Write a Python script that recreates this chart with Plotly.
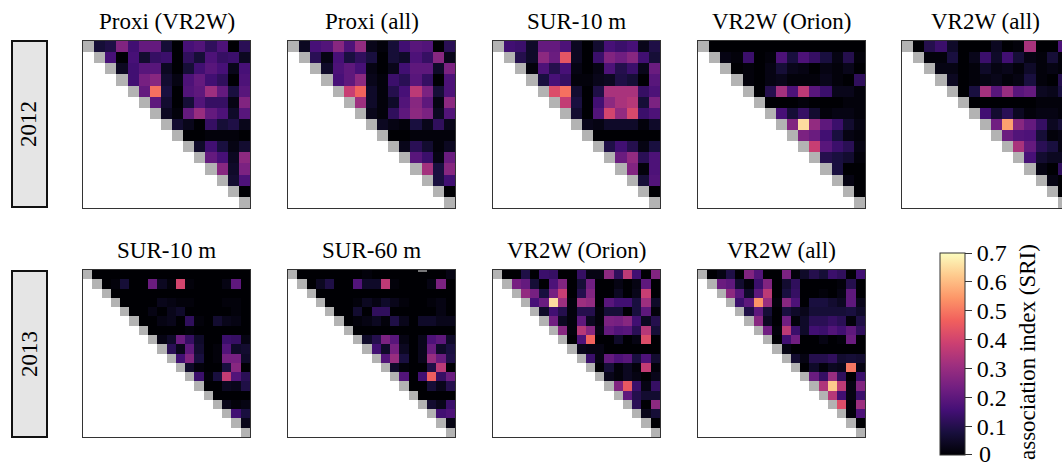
import plotly.graph_objects as go

titles_2012 = ["Proxi (VR2W)", "Proxi (all)", "SUR-10 m", "VR2W (Orion)", "VR2W (all)"]
titles_2013 = ["SUR-10 m", "SUR-60 m", "VR2W (Orion)", "VR2W (all)"]
year_labels = ["2012", "2013"]
# Plotly's colorbar axis starts half a colour step above zmin and drops the label
# for its lowest tick, so the "0" label is drawn as an annotation below.
cbar_ticks = [0.002, 0.1, 0.2, 0.3, 0.4, 0.5, 0.6, 0.7]
cbar_labels = ["", "0.1", "0.2", "0.3", "0.4", "0.5", "0.6", "0.7"]
cbar_zero_label = "0"

p2012_proxi_vr2w = [
    [.07,.09,.26,.15,.21,.21,.07,0,.16,.18,.12,.17,0,.11],
    [.16,0,.16,.06,.13,.14,0,.12,.07,.17,.13,.14,.04],
    [.04,.15,.19,.19,.04,0,.07,.15,.19,.16,.03,.16],
    [.15,.24,.27,.06,.02,.17,.21,.15,.12,0,.17],
    [.21,.49,.08,0,.18,.20,.31,.21,.08,.19],
    [.2,.06,0,.07,.18,.13,.13,.02,.26],
    [.04,.01,.21,.3,.21,.17,.05,.19],
    [.06,.03,0,.13,.07,.09,.03],
    [0,0,.01,.01,.01,0],
    [.05,.15,.08,.02,.06],
    [.21,.16,.04,.28],
    [.27,.05,.25],
    [.06,.17],
    [0],
]
p2012_proxi_all = [
    [.04,.16,.18,.27,.17,.29,.03,.01,.07,.15,.19,.18,0,.11],
    [.11,.02,.16,.08,.12,.08,0,.07,.05,.17,.13,.27,.03],
    [.05,.17,.2,.16,.02,0,.03,.15,.2,.2,.05,.25],
    [.16,.2,.28,.03,.01,.14,.11,.19,.13,0,.17],
    [.38,.47,.05,.01,.1,.16,.36,.25,.07,.17],
    [.31,.05,.01,.05,.18,.27,.2,.02,.28],
    [.03,.01,.12,.2,.28,.25,.04,.18],
    [.04,.02,.01,.08,.03,.12,.03],
    [0,0,.01,.01,.01,.01],
    [.03,.11,.06,.01,.04],
    [.19,.14,.02,.22],
    [.32,.08,.27],
    [.08,.15],
    [0],
]
p2012_sur10 = [
    [.15,.14,.05,.21,.21,.17,.04,0,.06,.16,.14,.16,.03,.09],
    [.1,.05,.28,.22,.44,.04,0,.14,.26,.23,.27,.15,.07],
    [.01,.17,.1,.16,.02,0,.02,.17,.1,.14,.03,.22],
    [.08,.16,.13,.01,.01,.03,.04,.09,.07,0,.19],
    [.42,.49,.06,0,.09,.33,.33,.33,.13,.17],
    [.37,.08,0,.15,.28,.33,.35,.07,.25],
    [.06,0,.18,.4,.29,.41,.14,.17],
    [.03,.02,.05,.05,.05,.01,.05],
    [0,0,0,0,0,0],
    [.09,.15,.1,.02,.08],
    [.22,.29,.11,.17],
    [.26,.01,.17],
    [.07,.18],
    [0],
]
p2012_orion = [
    [0,0,0,0,0,0,0,0,0,0,0,0,0,0],
    [.02,.01,.14,0,.01,.17,.08,.17,.13,.08,.02,.1,.01],
    [0,.01,0,.02,.07,.03,.02,0,.02,.01,.03,0],
    [.01,0,.02,.03,.01,.01,.01,.03,.01,0,.12],
    [0,.1,.32,.17,.36,.19,.14,.03,.03,.01],
    [0,0,0,.01,0,0,0,.01,.01],
    [.16,.07,.13,.06,.01,.02,.02,.01],
    [.26,.65,.29,.2,.14,.06,.02],
    [.25,.22,.15,.08,.02,.01],
    [.38,.19,.14,.11,.02],
    [.1,.08,.06,.01],
    [.08,0,0],
    [.02,0],
    [0],
]
p2012_all = [
    [0,.1,.14,.05,0,0,0,.04,0,.01,.33,0,0,.17],
    [.01,.01,.08,0,.03,.14,.05,.15,.07,.02,.01,.07,.01],
    [.02,.02,0,.01,.05,.02,.03,.01,.05,.01,.02,.01],
    [.04,0,.01,.02,.03,.01,.02,.08,.01,0,.1],
    [0,.08,.32,.19,.3,.19,.21,.04,.03,.08],
    [0,0,0,0,0,0,.01,.01,.01],
    [.15,.06,.11,.04,.01,.02,.02,.01],
    [.23,.56,.27,.21,.13,.04,.07],
    [.22,.18,.17,.07,.01,.02],
    [.33,.21,.11,.08,.02],
    [.16,.06,.04,.04],
    [.02,0,.12],
    [.02,0],
    [0],
]
p2013_sur10 = [
    [0,0,0,0,0,0,0,0,0,0,0,0,0,0,0,0,0],
    [0,.01,.07,0,0,.22,.04,.01,.4,.01,0,0,0,.02,.2,0],
    [0,0,0,0,0,0,0,0,0,0,0,0,0,0,0],
    [0,0,0,0,.03,.02,.01,.01,0,0,0,.01,.01,0],
    [0,0,.02,0,.03,.05,0,0,0,0,0,.01,0],
    [0,.0,.02,.03,0,.12,.01,0,.06,.03,.02,0],
    [0,0,0,0,.01,0,0,0,0,0,0],
    [.02,.05,.22,.13,.05,0,0,.14,.13,.02],
    [.11,.03,.2,.06,0,.01,.18,.05,.06],
    [.15,.26,.08,0,.01,.24,.24,.05],
    [.05,.01,0,0,.08,.27,0],
    [.14,.01,.08,.37,.18,.11],
    [0,0,.04,.03,.09],
    [0,0,0,0],
    [.03,.01,.02],
    [.15,.08],
    [.03],
]
p2013_sur60 = [
    [0,0,0,0,0,0,0,.01,0,0,0,0,0,0,0,0,.02],
    [0,.04,.09,0,0,.18,.05,.05,.36,.01,0,0,0,.02,.25,0],
    [0,0,0,0,0,0,0,0,0,0,0,0,0,0,0],
    [0,0,0,.01,.04,.02,.05,.03,.01,0,0,.01,.02,0],
    [0,0,.06,0,.12,.12,0,0,0,0,0,.02,0],
    [0,.01,.02,.04,.01,.09,.03,0,.05,.05,.03,.03],
    [0,0,0,0,0,0,0,0,0,0,0],
    [.05,.1,.25,.19,.02,0,.03,.17,.2,.05],
    [.15,.05,.24,.04,0,.03,.22,.05,.08],
    [.18,.3,.08,0,.03,.3,.22,.09],
    [.05,.01,0,0,.09,.36,0],
    [.18,0,.15,.46,.13,.22],
    [0,0,.07,.03,.1],
    [0,0,0,0],
    [.06,.03,.14],
    [.15,.17],
    [.02],
]
p2013_orion = [
    [0,0,.09,0,.14,.13,0,0,.13,.02,.02,.28,.12,.36,.15,0,.26],
    [.24,.21,.07,0,.17,.26,0,.07,.23,0,0,.02,0,.02,.2,0],
    [.29,.24,.08,.24,.38,0,.1,.26,0,0,.04,0,.03,.38,0],
    [.16,.22,.65,.31,.01,.31,.29,0,.19,.15,.15,.08,.31,.05],
    [.05,.15,.1,.01,.1,.1,.01,.07,.07,0,.08,.2,.01],
    [.23,.04,.01,.2,.04,.01,.25,.24,.27,.15,.04,.1],
    [.27,.01,.35,.27,.02,.21,.18,.19,.11,.35,.07],
    [0,.17,.47,0,0,.05,0,.02,.42,0],
    [.03,.02,.02,0,0,0,0,0,0],
    [.14,.02,.21,.17,.19,.08,.17,.06],
    [0,.07,.01,.04,.01,.37,.01],
    [.03,.01,.04,.02,0,.03],
    [.26,.45,.14,.02,.13],
    [.2,.1,.06,.06],
    [.11,0,.28],
    [.03,.07],
    [0],
]
p2013_all = [
    [0,.02,.09,0,.26,.18,0,0,.25,.01,.05,.1,.07,.14,.12,0,.15],
    [.22,.2,.06,.01,.14,.26,0,.06,.12,0,0,0,0,.01,.1,0],
    [.28,.19,.05,.2,.36,0,.08,.13,0,0,.01,0,.02,.2,0],
    [.14,.2,.54,.3,.01,.27,.17,0,.08,.08,.06,.04,.2,.03],
    [.09,.2,.07,0,.08,.05,.03,.07,.07,.07,.07,.08,.05],
    [.27,.04,0,.23,.01,.05,.11,.11,.13,.11,.01,.09],
    [.23,.01,.36,.14,.05,.15,.14,.18,.15,.2,.12],
    [0,.15,.23,0,0,.02,0,.01,.22,0],
    [.02,0,0,0,0,0,0,0,0],
    [.06,.02,.1,.1,.12,.06,.07,.06],
    [0,.05,.01,.04,.03,.5,.02],
    [.22,.13,.3,.12,0,.14],
    [.34,.62,.36,.02,.26],
    [.35,.15,.02,.14],
    [.42,.01,.31],
    [.01,.17],
    [0],
]

W, H = 1062, 464
PANEL = 167.0
SERIF = "Liberation Serif"
TEXT = "#000000"
ZMAX = 0.7


def fx(px):
    return px / W


def fy(px):
    return 1 - px / H


def matrices(rows):
    n = len(rows) + 1
    z = [[None] * n for _ in range(n)]
    d = [[None] * n for _ in range(n)]
    for i in range(n):
        d[i][i] = 1
    for i, row in enumerate(rows):
        assert len(row) == n - 1 - i, (n, i, len(row))
        for k, v in enumerate(row):
            z[i][i + 1 + k] = v
    return z, d


panels = [
    (p2012_proxi_vr2w, titles_2012[0], 83, 41),
    (p2012_proxi_all, titles_2012[1], 288, 41),
    (p2012_sur10, titles_2012[2], 493, 41),
    (p2012_orion, titles_2012[3], 698, 41),
    (p2012_all, titles_2012[4], 902, 41),
    (p2013_sur10, titles_2013[0], 83, 270),
    (p2013_sur60, titles_2013[1], 288, 270),
    (p2013_orion, titles_2013[2], 493, 270),
    (p2013_all, titles_2013[3], 698, 270),
]

fig = go.Figure()
layout = {}
annotations = []
shapes = []

for idx, (rows, title, left, top) in enumerate(panels):
    ax = "" if idx == 0 else str(idx + 1)
    z, d = matrices(rows)
    n = len(z)
    fig.add_trace(go.Heatmap(
        z=z, xaxis="x" + ax, yaxis="y" + ax, colorscale="Magma", zmin=0, zmax=ZMAX,
        hoverongaps=False, showscale=idx == 0,
        colorbar=dict(
            lenmode="pixels", len=202, thicknessmode="pixels", thickness=25,
            x=fx(940), xanchor="left", xpad=0, y=fy(455), yanchor="bottom", ypad=0,
            tickmode="array", tickvals=cbar_ticks, ticktext=cbar_labels,
            ticks="outside", ticklen=7, tickwidth=1, tickcolor="#333333",
            outlinewidth=1, outlinecolor="#333333",
            tickfont=dict(family=SERIF, size=24, color=TEXT),
        ),
    ))
    fig.add_trace(go.Heatmap(
        z=d, xaxis="x" + ax, yaxis="y" + ax, showscale=False, hoverinfo="skip",
        colorscale=[[0, "#b3b3b3"], [1, "#b3b3b3"]], zmin=0, zmax=1,
    ))
    right = min(left + PANEL, W)
    xmax = -0.5 + n * (right - left) / PANEL
    cut = left + PANEL > W
    layout["xaxis" + ax] = dict(
        domain=[fx(left), fx(right)], range=[-0.5, xmax], anchor="y" + ax,
        showticklabels=False, ticks="", showgrid=False, zeroline=False,
        showline=True, linecolor="#333333", linewidth=1,
        mirror=True,
    )
    layout["yaxis" + ax] = dict(
        domain=[fy(top + PANEL), fy(top)], range=[n - 0.5, -0.5], anchor="x" + ax,
        showticklabels=False, ticks="", showgrid=False, zeroline=False,
        showline=True, linecolor="#333333", linewidth=1,
        mirror=not cut,
    )
    annotations.append(dict(
        text=title, x=fx(left + PANEL / 2), y=fy(top - 5), xref="paper", yref="paper",
        xanchor="center", yanchor="bottom", showarrow=False,
        font=dict(family=SERIF, size=23, color=TEXT),
    ))

for label, top in zip(year_labels, (41, 271)):
    shapes.append(dict(
        type="rect", xref="paper", yref="paper",
        x0=fx(12), x1=fx(47), y0=fy(top + 166), y1=fy(top),
        fillcolor="#e5e5e5", line=dict(color="#111111", width=2), layer="below",
    ))
    annotations.append(dict(
        text=label, x=fx(29), y=fy(top + 83), xref="paper", yref="paper",
        xanchor="center", yanchor="middle", textangle=-90, showarrow=False,
        font=dict(family=SERIF, size=23, color=TEXT),
    ))

# Small pale stroke on the top edge of the SUR-60 m panel in the reference.
shapes.append(dict(
    type="line", xref="paper", yref="paper",
    x0=fx(418), x1=fx(427), y0=fy(271), y1=fy(271),
    line=dict(color="#eeeeee", width=1), layer="above",
))

annotations.append(dict(
    text="association index (SRI)", x=fx(1027), y=fy(352), xref="paper", yref="paper",
    xanchor="center", yanchor="middle", textangle=-90, showarrow=False,
    font=dict(family=SERIF, size=23, color=TEXT),
))

annotations.append(dict(
    text=cbar_zero_label, x=fx(978), y=fy(454), xref="paper", yref="paper",
    xanchor="left", yanchor="middle", showarrow=False, borderpad=0,
    font=dict(family=SERIF, size=24, color=TEXT),
))

fig.update_layout(
    width=W, height=H, autosize=False,
    margin=dict(l=0, r=0, t=0, b=0, autoexpand=False),
    paper_bgcolor="white", plot_bgcolor="white",
    annotations=annotations, shapes=shapes, **layout,
)
fig.write_html(
    "out.html",
    config={"displayModeBar": False},
    post_script="document.body.style.margin='0';document.body.style.overflow='hidden';",
)
